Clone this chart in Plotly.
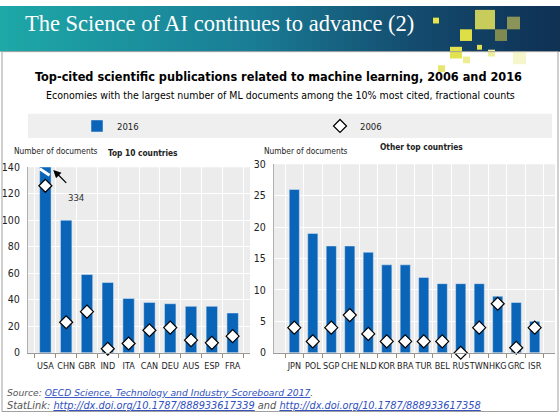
import plotly.graph_objects as go

# Данные: топ-10 стран
top_countries = ["USA", "CHN", "GBR", "IND", "ITA", "CAN", "DEU", "AUS", "ESP", "FRA"]
top_2016 = [334, 100, 59, 53, 41, 38, 37, 35, 35, 30]
top_2006 = [126, 23, 31, 3, 7, 17, 19, 9.5, 7.5, 12.5]

# Данные: другие страны
other_countries = ["JPN", "POL", "SGP", "CHE", "NLD", "KOR", "BRA", "TUR", "BEL", "RUS",
                   "TWN", "HKG", "GRC", "ISR"]
other_2016 = [26, 19, 17, 17, 16, 14, 14, 12, 11, 11, 11, 9, 8, 5]
other_2006 = [4, 1.8, 4, 6, 3, 1.8, 1.8, 1.8, 1.8, 0, 4, 7.8, 0.8, 4]

W, H = 560, 418
BLUE = "#0a64b8"
NARROW = "DejaVu Sans Condensed, Liberation Sans, Arial"


def px(x):
    return x / W


def py(y):
    return 1 - y / H


fig = go.Figure()

fig.add_trace(go.Bar(x=top_countries, y=top_2016, marker_color=BLUE, name="2016",
                     xaxis="x", yaxis="y", legend="legend"))
fig.add_trace(go.Scatter(x=top_countries, y=top_2006, mode="markers", name="2006",
                         marker=dict(symbol="diamond", size=10, color="white",
                                     line=dict(color="black", width=1.2)),
                         xaxis="x", yaxis="y", cliponaxis=False, legend="legend2"))
fig.add_trace(go.Bar(x=other_countries, y=other_2016, marker_color=BLUE, showlegend=False,
                     xaxis="x2", yaxis="y2"))
fig.add_trace(go.Scatter(x=other_countries, y=other_2006, mode="markers", showlegend=False,
                         marker=dict(symbol="diamond", size=10, color="white",
                                     line=dict(color="black", width=1.2)),
                         xaxis="x2", yaxis="y2", cliponaxis=False))

shapes = []
# шапка слайда с градиентом
stops = [(0.0, (30, 168, 168)), (0.45, (26, 125, 150)), (0.75, (20, 75, 110)), (1.0, (15, 50, 85))]
n = 70
for i in range(n):
    t = i / (n - 1)
    for (t0, c0), (t1, c1) in zip(stops[:-1], stops[1:]):
        if t0 <= t <= t1:
            k = (t - t0) / (t1 - t0)
            c = tuple(int(a + (b - a) * k) for a, b in zip(c0, c1))
            break
    shapes.append(dict(type="rect", xref="paper", yref="paper", layer="below",
                       x0=px(W * i / n), x1=px(W * (i + 1) / n + 1), y0=py(47), y1=1,
                       line_width=0, fillcolor="rgb(%d,%d,%d)" % c))

# декоративные квадраты
squares = [
    (433, 12, 6, "#e6e64c"), (475, 4, 20, "#c8cc5a"), (460, 24, 12, "#dede46"),
    (495, 24, 12, "#7f8a50"), (507, 11, 13, "#8a9458"), (477, 40, 5, "#e0e050"),
    (450, 42, 12, "#e2e24e"), (463, 52, 7, "#eeee90"), (488, 45, 7, "#eeee9a"),
    (513, 47, 13, "#f6f6cc"), (438, 61, 7, "#e6e670"),
]
for x0, y0, s, col in squares:
    shapes.append(dict(type="rect", xref="paper", yref="paper", x0=px(x0), x1=px(x0 + s),
                       y0=py(y0 + s), y1=py(y0), line_width=0, fillcolor=col))

# рамка слайда
shapes.append(dict(type="rect", xref="paper", yref="paper", x0=px(2), x1=px(558),
                   y0=py(417.5), y1=py(47), line=dict(color="#a0a0a0", width=1)))
# полоса легенды
shapes.append(dict(type="rect", xref="paper", yref="paper", layer="below", x0=px(28), x1=px(552),
                   y0=py(136), y1=py(111), line_width=0, fillcolor="#efefef"))
# разрыв столбца USA
shapes.append(dict(type="line", xref="x", yref="y", x0=-0.27, x1=0.2, y0=138.8, y1=134,
                   line=dict(color="white", width=3)))

annotations = [
    dict(text="The Science of AI continues to advance (2)", x=px(23), y=py(18),
         font=dict(family="Liberation Serif, DejaVu Serif, serif", size=22.5, color="white")),
    dict(text="<b>Top-cited scientific publications related to machine learning, 2006 and 2016</b>",
         x=px(278), xanchor="center", y=py(73), font=dict(family=NARROW, size=12.6, color="black")),
    dict(text="Economies with the largest number of ML documents among the 10% most cited, fractional counts",
         x=px(280), xanchor="center", y=py(91.5), font=dict(family=NARROW, size=10.5, color="black")),
    dict(text="Number of documents", x=px(12), y=py(149),
         font=dict(family=NARROW, size=8.3, color="#222")),
    dict(text="<b>Top 10 countries</b>", x=px(106), y=py(151.5),
         font=dict(family=NARROW, size=8.3, color="#222")),
    dict(text="Number of documents", x=px(262), y=py(149),
         font=dict(family=NARROW, size=8.3, color="#222")),
    dict(text="<b>Other top countries</b>", x=px(378), y=py(145),
         font=dict(family=NARROW, size=8.3, color="#222")),
    dict(text="334", x=px(66), y=py(197), font=dict(family=NARROW, size=9.5, color="#333")),
    dict(text="", xref="x", yref="y", x=0.38, y=138, ax=13, ay=13, showarrow=True,
         arrowhead=2, arrowsize=1.2, arrowwidth=1.3, arrowcolor="black"),
    dict(text="<i>Source: <span style='color:#3050c0'><u>OECD Science, Technology and Industry Scoreboard 2017</u></span>.</i>",
         x=px(5), y=py(398), font=dict(family="DejaVu Sans", size=9.2, color="#555")),
    dict(text="<i>StatLink: <span style='color:#3050c0'><u>http://dx.doi.org/10.1787/888933617339</u></span> and "
              "<span style='color:#3050c0'><u>http://dx.doi.org/10.1787/888933617358</u></span></i>",
         x=px(5), y=py(411), font=dict(family="DejaVu Sans", size=9.8, color="#555")),
]
for a in annotations:
    a.setdefault("xref", "paper")
    a.setdefault("yref", "paper")
    a.setdefault("xanchor", "left")
    a.setdefault("yanchor", "middle")
    a.setdefault("showarrow", False)

xcommon = dict(type="category", tickson="boundaries", ticks="outside", ticklen=4,
               tickcolor="#a08c70", showline=True, linecolor="#999", linewidth=1,
               showgrid=True, gridcolor="white", gridwidth=1, tickangle=0,
               ticklabelstandoff=4,
               tickfont=dict(family=NARROW, size=9, color="#222"))
ycommon = dict(showgrid=True, gridcolor="white", gridwidth=1, zeroline=False,
               ticks="", showline=True, linecolor="#b0b0b0", linewidth=1,
               ticklabelstandoff=5,
               tickfont=dict(family=NARROW, size=10.5, color="#222"))
legcommon = dict(orientation="h", y=py(123.5), xanchor="left", yanchor="middle",
                 bgcolor="rgba(0,0,0,0)", font=dict(family=NARROW, size=9.5, color="#222"))

fig.update_layout(
    width=W, height=H, margin=dict(l=0, r=0, t=0, b=0),
    paper_bgcolor="white", plot_bgcolor="white",
    barmode="overlay", bargap=0.45,
    xaxis=dict(domain=[px(28), px(250)], anchor="y", **xcommon),
    yaxis=dict(domain=[py(357), py(166)], anchor="x", range=[0, 140], dtick=20, **ycommon),
    xaxis2=dict(domain=[px(274), px(555)], anchor="y2", **xcommon),
    yaxis2=dict(domain=[py(357), py(163)], anchor="x2", range=[0, 30], dtick=5, **ycommon),
    shapes=shapes, annotations=annotations,
    legend=dict(x=px(77), **legcommon),
    legend2=dict(x=px(320), **legcommon),
)
# серый фон областей построения
for d in ("x", "x2"):
    ya = "y" if d == "x" else "y2"
    fig.add_shape(type="rect", xref=d + " domain", yref=ya + " domain", x0=0, x1=1, y0=0, y1=1,
                  layer="below", line_width=0, fillcolor="#ececec")

page_css = ("document.documentElement.style.overflow='hidden';"
            "document.body.style.margin='0';document.body.style.overflow='hidden';")
fig.write_html("out.html", config={"displayModeBar": False}, post_script=page_css)
